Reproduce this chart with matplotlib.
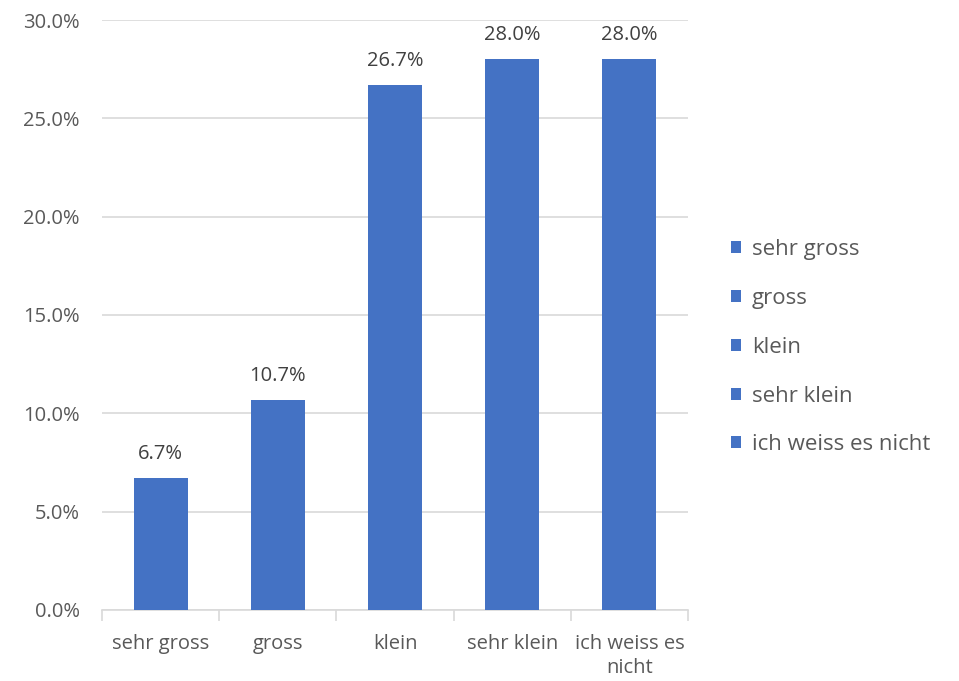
import numpy as np
import matplotlib.pyplot as plt
from matplotlib.ticker import FuncFormatter, FixedLocator

plt.rcParams['font.family'] = ['Open Sans', 'DejaVu Sans']

categories = ['sehr gross', 'gross', 'klein', 'sehr klein', 'ich weiss es nicht']
tick_labels = ['sehr gross', 'gross', 'klein', 'sehr klein', 'ich weiss es\nnicht']
values = [6.7, 10.7, 26.7, 28.0, 28.0]

bar_color = '#4472C4'
text_color = '#595959'
grid_color = '#D9D9D9'

fig = plt.figure(figsize=(9.59, 6.81), dpi=100)
ax = fig.add_axes([0.1064, 0.1043, 0.611, 0.8663])

x = np.arange(len(categories))
for i, (cat, val) in enumerate(zip(categories, values)):
    ax.bar(x[i], val, width=0.46, color=bar_color, label=cat, zorder=3)
    ax.annotate(f'{val:.1f}%', (x[i], val), xytext=(0, 10), textcoords='offset points',
                ha='center', va='bottom', fontsize=14.5, color='#404040')

ax.set_xlim(-0.5, len(categories) - 0.5)
ax.set_ylim(0, 30)
ax.set_yticks(np.arange(0, 31, 5))
ax.yaxis.set_major_formatter(FuncFormatter(lambda v, p: f'{v:.1f}%'))
ax.grid(axis='y', color=grid_color, linewidth=1.2, zorder=0)

ax.set_xticks(x)
ax.set_xticklabels(tick_labels, fontsize=14.5, color=text_color, linespacing=1.3)
ax.xaxis.set_minor_locator(FixedLocator(np.arange(-0.5, len(categories), 1)))
ax.tick_params(axis='x', which='major', length=0, pad=17)
ax.tick_params(axis='x', which='minor', length=8, color=grid_color, width=1.2)
ax.tick_params(axis='y', length=0, labelsize=14.5, labelcolor=text_color, pad=16)

for s in ['top', 'right', 'left']:
    ax.spines[s].set_visible(False)
ax.spines['bottom'].set_color(grid_color)
ax.spines['bottom'].set_linewidth(1.2)

leg = fig.legend(loc='center left', bbox_to_anchor=(0.762, 0.49), frameon=False,
                 fontsize=16, handlelength=0.45, handleheight=0.45, handletextpad=0.5,
                 labelspacing=1.25, borderpad=0, borderaxespad=0)
for t in leg.get_texts():
    t.set_color(text_color)

plt.savefig('out.png', dpi=100)
